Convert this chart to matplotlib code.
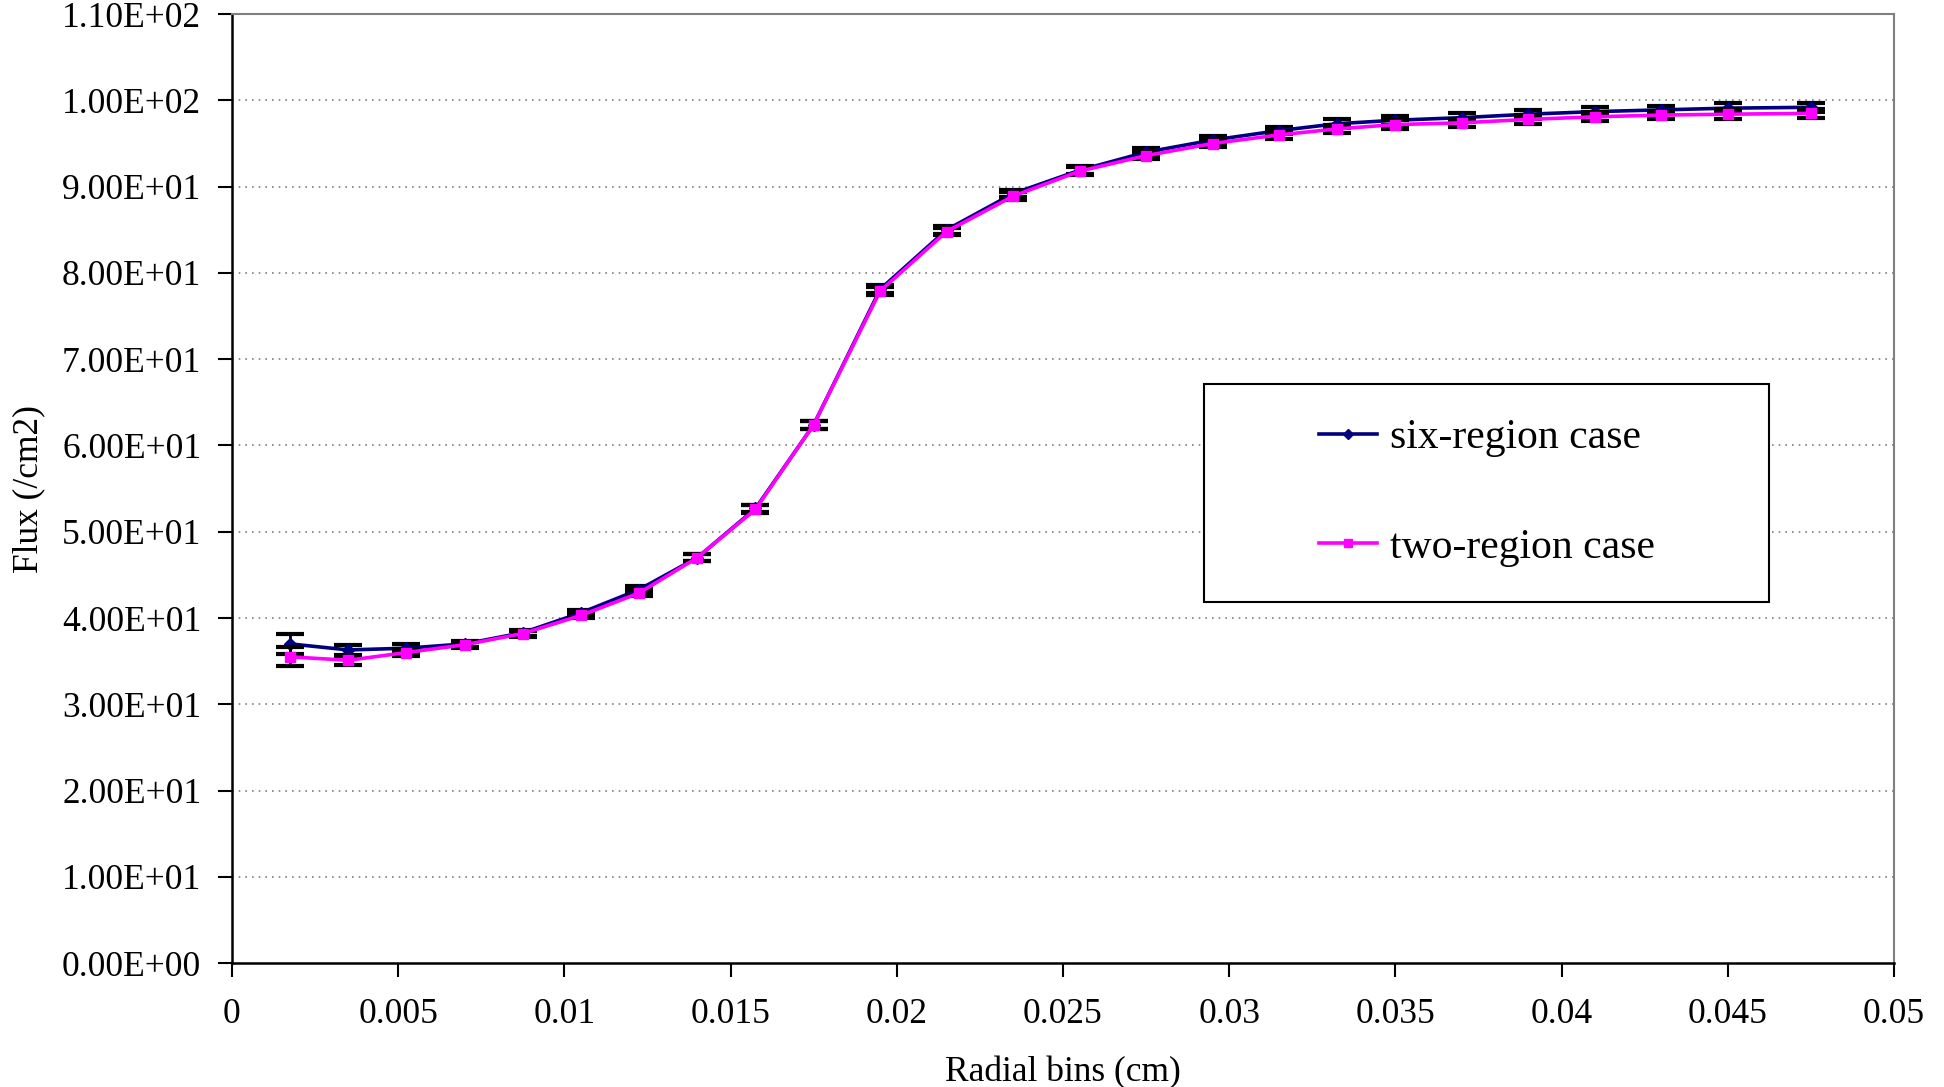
import matplotlib
matplotlib.use("Agg")
import matplotlib.pyplot as plt
from matplotlib.patches import Rectangle
from matplotlib.ticker import FuncFormatter

plt.rcParams["font.family"] = ["Liberation Serif", "DejaVu Serif"]

# radial bin centres (cm)
radius = [0.00175, 0.0035, 0.00525, 0.007, 0.00875, 0.0105, 0.01225, 0.014,
          0.01575, 0.0175, 0.0195, 0.0215, 0.0235, 0.0255, 0.0275, 0.0295,
          0.0315, 0.03325, 0.035, 0.037, 0.039, 0.041, 0.043, 0.045, 0.0475]

flux_six = [37.0, 36.3, 36.5, 37.0, 38.3, 40.6, 43.3, 47.0, 52.7, 62.4,
            78.1, 85.0, 89.2, 91.9, 94.0, 95.4, 96.5, 97.3, 97.7, 98.0,
            98.4, 98.7, 98.9, 99.1, 99.2]
err_six = [1.2, 0.55, 0.45, 0.35, 0.35, 0.35, 0.4, 0.4, 0.45, 0.45,
           0.45, 0.45, 0.45, 0.45, 0.45, 0.45, 0.45, 0.5, 0.5, 0.5,
           0.5, 0.5, 0.5, 0.55, 0.55]

flux_two = [35.5, 35.1, 36.0, 36.9, 38.2, 40.3, 42.9, 47.0, 52.6, 62.4,
            77.9, 84.8, 88.9, 91.8, 93.6, 95.0, 96.0, 96.7, 97.2, 97.4,
            97.8, 98.1, 98.3, 98.4, 98.5]
err_two = [1.1, 0.55, 0.45, 0.35, 0.35, 0.35, 0.4, 0.4, 0.45, 0.45,
           0.45, 0.45, 0.45, 0.45, 0.45, 0.45, 0.45, 0.5, 0.5, 0.5,
           0.5, 0.5, 0.5, 0.55, 0.55]

NAVY = "#000080"
MAGENTA = "#FF00FF"
FS = 25.5

fig = plt.figure(figsize=(19.44, 10.87), dpi=100)
ax = fig.add_axes([0.1193, 0.114, 0.855, 0.873])

ax.errorbar(radius, flux_six, yerr=err_six, color=NAVY, lw=2.6,
            marker="D", ms=6, mfc=NAVY, mec=NAVY,
            ecolor="black", elinewidth=2, capsize=10, capthick=3,
            zorder=3, label="six-region case")
ax.errorbar(radius, flux_two, yerr=err_two, color=MAGENTA, lw=2.6,
            marker="s", ms=7, mfc=MAGENTA, mec=MAGENTA,
            ecolor="black", elinewidth=2, capsize=10, capthick=3,
            zorder=4, label="two-region case")

ax.set_xlim(0, 0.05)
ax.set_ylim(0, 110)
ax.set_xticks([0, 0.005, 0.01, 0.015, 0.02, 0.025, 0.03, 0.035, 0.04, 0.045, 0.05])
ax.set_xticklabels(["0", "0.005", "0.01", "0.015", "0.02", "0.025", "0.03",
                    "0.035", "0.04", "0.045", "0.05"])
ax.set_yticks(range(0, 111, 10))
ax.yaxis.set_major_formatter(FuncFormatter(lambda v, p: f"{v:.2E}"))

ax.tick_params(axis="both", direction="out", length=10, width=1.5,
               labelsize=FS, colors="black")
ax.tick_params(axis="y", pad=12)
ax.tick_params(axis="x", pad=15)

for y in range(10, 101, 10):
    ax.axhline(y, color="#808080", lw=1.2, ls=(0, (1, 3)), zorder=1)

for side in ["left", "bottom"]:
    ax.spines[side].set_color("black")
    ax.spines[side].set_linewidth(1.8)
for side in ["top", "right"]:
    ax.spines[side].set_color("#808080")
    ax.spines[side].set_linewidth(1.5)

ax.set_xlabel("Radial bins (cm)", fontsize=FS, labelpad=18)
ax.set_ylabel("Flux (/cm2)", fontsize=FS, labelpad=12)

# legend box
ax.add_patch(Rectangle((0.585, 0.381), 0.34, 0.229, transform=ax.transAxes,
                       facecolor="white", edgecolor="black", lw=1.5, zorder=5))
handles, labels = ax.get_legend_handles_labels()
handles = [h[0] for h in handles]
leg = ax.legend(handles, labels, loc="center", bbox_to_anchor=(0.755, 0.4955),
                frameon=False, fontsize=30, labelspacing=1.7,
                handlelength=1.4, handletextpad=0.3, markerscale=0.8)
leg.set_zorder(6)

fig.savefig("out.png", dpi=100)
